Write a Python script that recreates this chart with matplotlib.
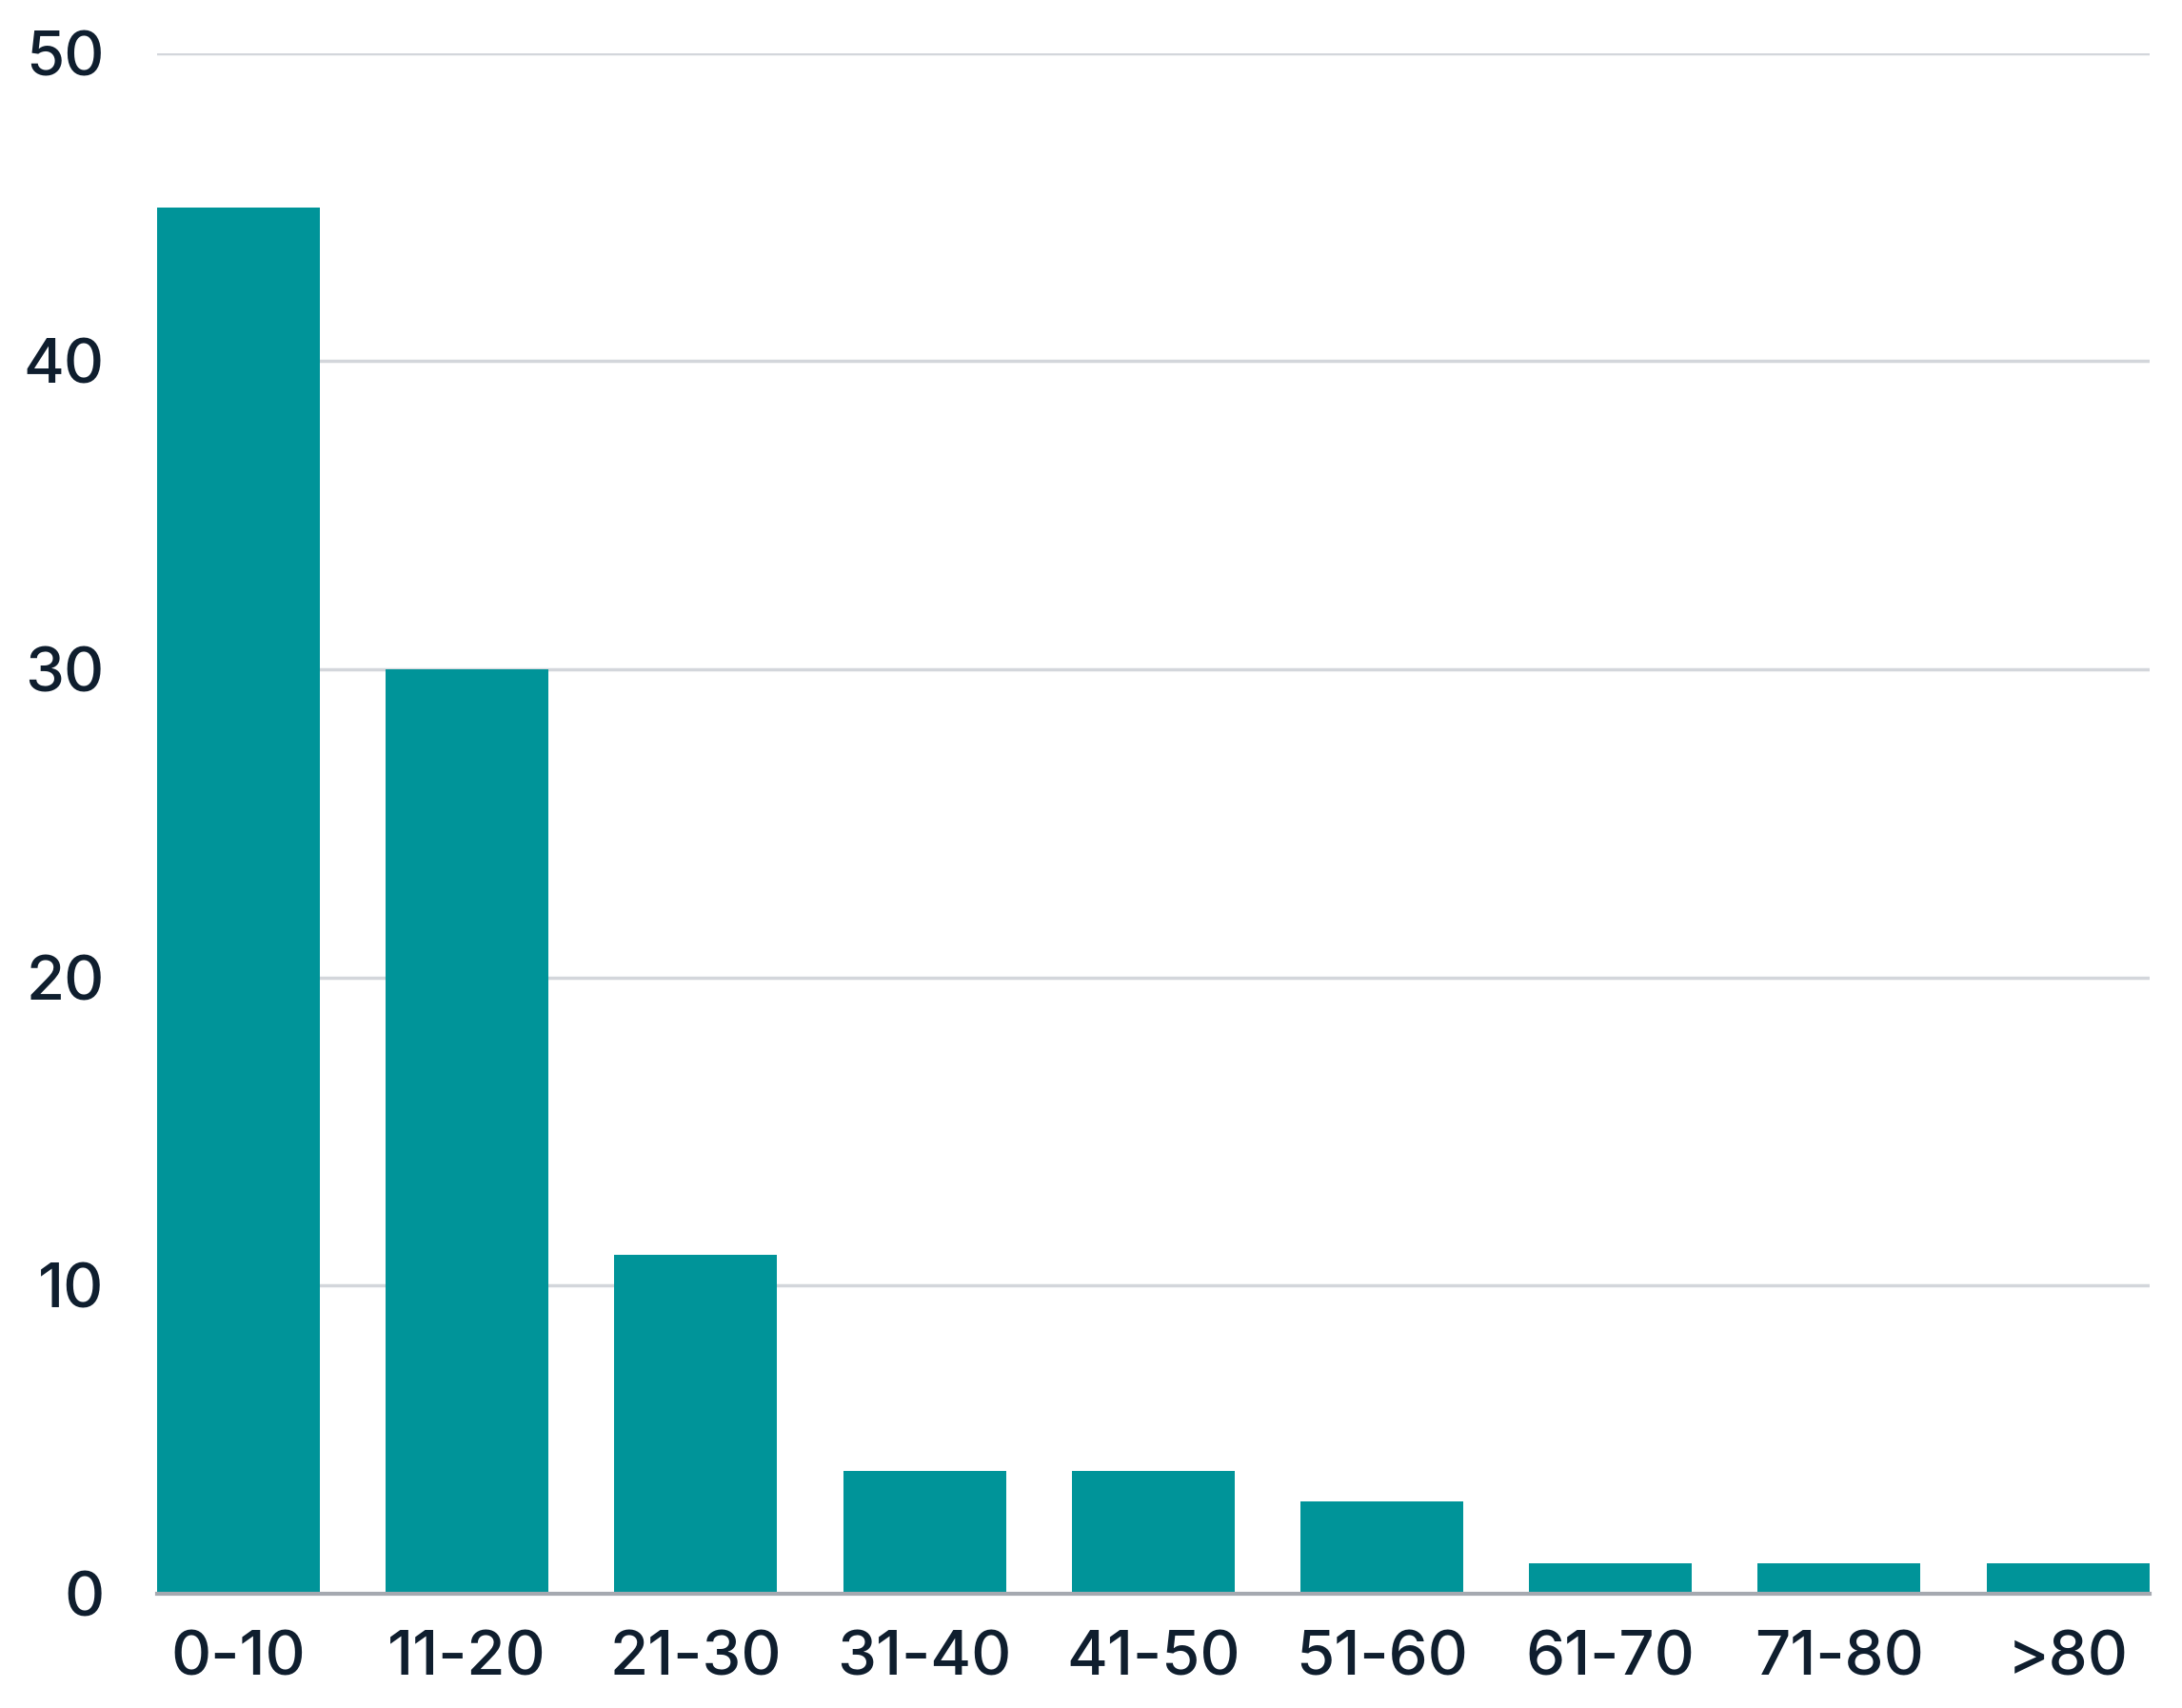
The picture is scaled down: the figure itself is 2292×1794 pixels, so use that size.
import matplotlib
matplotlib.use("Agg")
import matplotlib.pyplot as plt

categories = ["0-10", "11-20", "21-30", "31-40", "41-50", "51-60", "61-70", "71-80", ">80"]
values = [45, 30, 11, 4, 4, 3, 1, 1, 1]
yticks = [0, 10, 20, 30, 40, 50]

plt.rcParams['font.family'] = ['Inter', 'DejaVu Sans']
plt.rcParams['font.weight'] = 500

fig = plt.figure(figsize=(22.92, 17.94), dpi=100)
ax = fig.add_axes([0.072, 0.0669, 0.913, 0.902])

x = list(range(len(categories)))
width = 0.712
ax.bar(x, values, width=width, color="#009499", zorder=3)

ax.set_xlim(-width / 2, len(categories) - 1 + width / 2)
ax.set_ylim(0, 50)
ax.set_yticks(yticks)
ax.set_xticks(x)
ax.set_xticklabels(categories)

ax.grid(axis="y", color="#d3d6db", linewidth=2.5, zorder=0)
for s in ["top", "right", "left"]:
    ax.spines[s].set_visible(False)
ax.spines["bottom"].set_color("#a5a9b0")
ax.spines["bottom"].set_linewidth(3)
ax.spines["bottom"].set_zorder(4)

ax.tick_params(axis="both", length=0, labelsize=47, colors="#0f1e2e")
ax.tick_params(axis="y", pad=40)
ax.tick_params(axis="x", pad=28)

fig.savefig("out.png", dpi=100, facecolor="white")
